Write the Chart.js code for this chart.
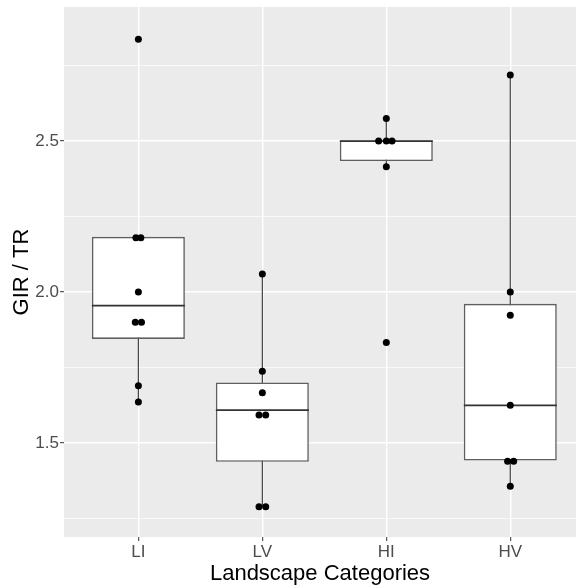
<!DOCTYPE html>
<html>
<head>
<meta charset="utf-8">
<script src="https://cdn.jsdelivr.net/npm/chart.js@4/dist/chart.umd.min.js"></script>
<style>
	body { margin: 0; background: #fff; }
</style>
</head>
<body>
<canvas id="chart" width="576" height="585"></canvas>
<script>
'use strict'

//------------- data ------------- //
var categories = ['LI', 'LV', 'HI', 'HV'];

var whiskerLo = [1.636, 1.289, 2.415, 1.357];
var q1 = [1.845, 1.438, 2.434, 1.442];
var medians = [1.955, 1.609, 2.500, 1.625];
var q3 = [2.183, 1.701, 2.502, 1.961];
var whiskerHi = [2.183, 2.060, 2.575, 2.719];

var liValues = [2.837, 2.18, 2.18, 2.0, 1.9, 1.9, 1.69, 1.636];
var lvValues = [2.06, 1.738, 1.667, 1.593, 1.593, 1.289, 1.289];
var hiValues = [2.575, 2.5, 2.5, 2.5, 2.415, 1.833];
var hvValues = [2.719, 2.0, 1.923, 1.625, 1.44, 1.44, 1.357];

// small sideways spread of stacked dots (category units)
var liDx = [0, -0.02, 0.02, 0, -0.025, 0.025, 0, 0];
var lvDx = [0, 0, 0, -0.027, 0.027, -0.027, 0.027];
var hiDx = [0, -0.062, 0, 0.046, 0, 0];
var hvDx = [0, 0, 0, 0, -0.022, 0.027, 0];

var yTickValues = [1.5, 2.0, 2.5];
var yTickLabels = ['1.5', '2.0', '2.5'];
var yMinorValues = [1.25, 1.75, 2.25, 2.75];
var yMin = 1.189;
var yMax = 2.944;
// the original plot is cut off a little on the right
var xMin = 0.4;
var xMax = 4.53;

var xTitle = 'Landscape Categories';
var yTitle = 'GIR / TR';

//------------- build datasets ------------- //
var groups = [[liValues, liDx], [lvValues, lvDx], [hiValues, hiDx], [hvValues, hvDx]];

var pts = [];
groups.forEach(function(g, i) {
	g[0].forEach(function(v, j) {
		pts.push({x: i + 1 + g[1][j], y: v});
	});
});

var whiskers = [];
var boxes = [];
categories.forEach(function(c, i) {
	whiskers.push({x: i + 1, y: whiskerLo[i]});
	whiskers.push({x: i + 1, y: whiskerHi[i]});
	whiskers.push({x: i + 1, y: null});
	boxes.push({x: i + 1, y: [q1[i], q3[i]]});
});

var allY = yMinorValues.concat(yTickValues).sort();

var panelBg = {
	id: 'panelBg',
	beforeDraw: function(chart) {
		var c = chart.ctx, a = chart.chartArea;
		c.save();
		c.fillStyle = '#fff';
		c.fillRect(0, 0, chart.width, chart.height);
		c.fillStyle = '#EBEBEB';
		c.fillRect(a.left, a.top, a.right - a.left, a.bottom - a.top);
		c.restore();
	}
};

var medianLines = {
	id: 'medianLines',
	afterDatasetDraw: function(chart, args) {
		if (args.index !== 1) return;
		var c = chart.ctx;
		var ys = chart.scales.y;
		c.save();
		c.strokeStyle = '#333';
		c.lineWidth = 1.6;
		args.meta.data.forEach(function(bar, i) {
			var p = bar.getProps(['x', 'width'], true);
			var y = ys.getPixelForValue(medians[i]);
			c.beginPath();
			c.moveTo(p.x - p.width / 2, y);
			c.lineTo(p.x + p.width / 2, y);
			c.stroke();
		});
		c.restore();
	}
};

window.onload = function() {
	var ctx = document.getElementById('chart').getContext('2d');

	var myChart = new Chart(ctx, {
		type: 'bar',
		data: {
			datasets: [{
				type: 'line',
				data: whiskers,
				borderColor: '#444',
				borderWidth: 1.2,
				pointRadius: 0,
				spanGaps: false,
				order: 3
			}, {
				type: 'bar',
				data: boxes,
				backgroundColor: '#fff',
				borderColor: '#5f5f5f',
				borderWidth: 1.6,
				borderSkipped: false,
				barPercentage: 0.75,
				categoryPercentage: 1.0,
				order: 2
			}, {
				type: 'scatter',
				data: pts,
				backgroundColor: '#000',
				borderWidth: 0,
				pointRadius: 3.5,
				order: 1
			}]
		},
		options: {
			responsive: false,
			animation: false,
			layout: { autoPadding: false, padding: { top: 7, right: 0, left: 0, bottom: 0 } },
			plugins: {
				legend: { display: false },
				tooltip: { enabled: false }
			},
			scales: {
				x: {
					type: 'linear',
					min: xMin,
					max: xMax,
					offset: false,
					border: { display: false },
					grid: {
						offset: false,
						color: '#fff',
						lineWidth: 1.4,
						tickColor: '#333',
						tickLength: 4,
						tickWidth: 1
					},
					afterBuildTicks: function(axis) {
						axis.ticks = categories.map(function(c, i) { return {value: i + 1}; });
					},
					afterFit: function(axis) {
						axis.height = 48;
						axis.paddingLeft = 0;
						axis.paddingRight = 0;
					},
					ticks: {
						autoSkip: false,
						maxRotation: 0,
						padding: 1,
						color: '#4D4D4D',
						font: { family: 'Liberation Sans, Arial, sans-serif', size: 17 },
						callback: function(v, i) { return categories[i]; }
					},
					title: {
						display: true,
						text: xTitle,
						color: '#000',
						padding: { top: 0, bottom: 0 },
						font: { family: 'Liberation Sans, Arial, sans-serif', size: 22, lineHeight: 1 }
					}
				},
				y: {
					type: 'linear',
					min: yMin,
					max: yMax,
					beginAtZero: false,
					border: { display: false },
					grid: {
						color: '#fff',
						lineWidth: function(c) { return yTickValues.indexOf(c.tick.value) >= 0 ? 1.4 : 0.7; },
						tickColor: function(c) { return yTickValues.indexOf(c.tick.value) >= 0 ? '#333' : 'rgba(0,0,0,0)'; },
						tickLength: 4,
						tickWidth: 1
					},
					afterBuildTicks: function(axis) {
						axis.ticks = allY.map(function(v) { return {value: v}; });
					},
					afterFit: function(axis) {
						axis.width = 64;
						axis.paddingTop = 0;
						axis.paddingBottom = 0;
					},
					ticks: {
						autoSkip: false,
						padding: 1,
						color: '#4D4D4D',
						font: { family: 'Liberation Sans, Arial, sans-serif', size: 17 },
						callback: function(v) {
							var k = yTickValues.indexOf(v);
							return k >= 0 ? yTickLabels[k] : '';
						}
					},
					title: {
						display: true,
						text: yTitle,
						color: '#000',
						padding: { top: 9, bottom: 0 },
						font: { family: 'Liberation Sans, Arial, sans-serif', size: 22, lineHeight: 1.2 }
					}
				}
			}
		},
		plugins: [panelBg, medianLines]
	});
}
</script>
</body>
</html>
